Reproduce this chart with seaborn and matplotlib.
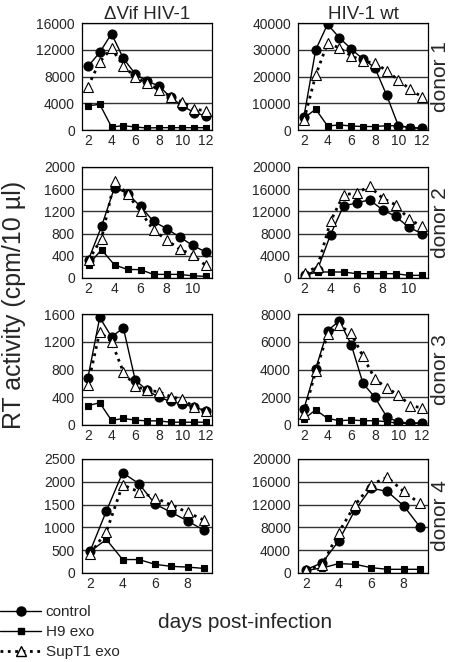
import numpy as np
import seaborn as sns
import matplotlib.pyplot as plt
from matplotlib.lines import Line2D

# days post-infection per donor
days_d1 = [2, 3, 4, 5, 6, 7, 8, 9, 10, 11, 12]
days_d2 = [2, 3, 4, 5, 6, 7, 8, 9, 10, 11]
days_d3 = [2, 3, 4, 5, 6, 7, 8, 9, 10, 11, 12]
days_d4 = [2, 3, 4, 5, 6, 7, 8, 9]

# donor 1
d1_vif_control = [9500, 11600, 14400, 10700, 8400, 7300, 6600, 4900, 3600, 2600, 2100]
d1_vif_h9 = [3600, 3850, 450, 650, 450, 300, 350, 350, 350, 350, 350]
d1_vif_supt1 = [6500, 10200, 12200, 9600, 7900, 7000, 6000, 5000, 4200, 3100, 2900]
d1_wt_control = [5000, 30000, 39500, 34500, 30300, 26500, 23300, 13000, 1500, 900, 600]
d1_wt_h9 = [4400, 7800, 1500, 1900, 1500, 1300, 1300, 1600, 1600, 1000, 600]
d1_wt_supt1 = [3800, 20500, 32500, 30700, 27700, 25800, 25000, 22200, 18600, 15200, 12300]

# donor 2
d2_vif_control = [330, 930, 1630, 1520, 1290, 1020, 890, 740, 590, 470]
d2_vif_h9 = [240, 510, 235, 155, 150, 65, 65, 65, 40, 30]
d2_vif_supt1 = [320, 710, 1745, 1510, 1200, 860, 690, 520, 420, 230]
d2_wt_control = [480, 1500, 7800, 13000, 13500, 14100, 12300, 11100, 9200, 8000]
d2_wt_h9 = [480, 1080, 1080, 1080, 780, 780, 780, 780, 480, 480]
d2_wt_supt1 = [960, 2000, 10200, 15000, 15300, 16500, 14400, 13200, 10700, 9300]

# donor 3
d3_vif_control = [680, 1550, 1270, 1400, 650, 500, 400, 340, 300, 260, 200]
d3_vif_h9 = [280, 320, 65, 95, 70, 60, 60, 40, 40, 40, 40]
d3_vif_supt1 = [580, 1345, 1200, 765, 560, 500, 480, 410, 370, 260, 200]
d3_wt_control = [1160, 4060, 6800, 7500, 5800, 3000, 2000, 600, 200, 150, 150]
d3_wt_h9 = [440, 1090, 480, 310, 360, 310, 310, 240, 120, 120, 120]
d3_wt_supt1 = [800, 3870, 6530, 7180, 6600, 4950, 3340, 2660, 2180, 1400, 1230]

# donor 4
d4_vif_control = [480, 1360, 2200, 1960, 1510, 1330, 1140, 940]
d4_vif_h9 = [475, 735, 295, 295, 190, 145, 130, 100]
d4_vif_supt1 = [425, 905, 1935, 1780, 1650, 1490, 1330, 1160]
d4_wt_control = [590, 1820, 5600, 11000, 14900, 14300, 11800, 8100]
d4_wt_h9 = [470, 880, 1650, 1530, 940, 650, 650, 650]
d4_wt_supt1 = [470, 1470, 7100, 11900, 15500, 16800, 14300, 12200]

col_titles = ['ΔVif HIV-1', 'HIV-1 wt']
donor_labels = ['donor 1', 'donor 2', 'donor 3', 'donor 4']
series_names = ['control', 'H9 exo', 'SupT1 exo']

panels = [
    [(days_d1, d1_vif_control, d1_vif_h9, d1_vif_supt1, 16000, 4000),
     (days_d1, d1_wt_control, d1_wt_h9, d1_wt_supt1, 40000, 10000)],
    [(days_d2, d2_vif_control, d2_vif_h9, d2_vif_supt1, 2000, 400),
     (days_d2, d2_wt_control, d2_wt_h9, d2_wt_supt1, 20000, 4000)],
    [(days_d3, d3_vif_control, d3_vif_h9, d3_vif_supt1, 1600, 400),
     (days_d3, d3_wt_control, d3_wt_h9, d3_wt_supt1, 8000, 2000)],
    [(days_d4, d4_vif_control, d4_vif_h9, d4_vif_supt1, 2500, 500),
     (days_d4, d4_wt_control, d4_wt_h9, d4_wt_supt1, 20000, 4000)],
]

sns.set_style('white')
plt.rcParams['font.family'] = ['Liberation Sans', 'DejaVu Sans']

fig = plt.figure(figsize=(4.5, 6.62), dpi=100)
H = 662.0
W = 450.0
row_px = [(23, 130), (167, 278), (314, 425), (459, 573)]
col_px = [(82, 212), (298, 428)]

styles = [
    dict(marker='o', markersize=6.5, linestyle='-', linewidth=1.0,
         markerfacecolor='black'),
    dict(marker='s', markersize=5, linestyle='-', linewidth=1.0,
         markerfacecolor='black'),
    dict(marker='^', markersize=6.5, linestyle=':', linewidth=2.0,
         markerfacecolor='white'),
]

for r, row in enumerate(panels):
    top, bot = row_px[r]
    for c, (days, ctrl, h9, sup, ymax, ystep) in enumerate(row):
        left, right = col_px[c]
        ax = fig.add_axes([left / W, 1 - bot / H, (right - left) / W, (bot - top) / H])
        for vals, st in zip([ctrl, h9, sup], styles):
            sns.lineplot(x=days, y=vals, ax=ax, color='black',
                         markeredgecolor='black', markeredgewidth=0.8,
                         legend=False, **st)
        ax.set_xlim(days[0] - 0.5, days[-1] + 0.5)
        ax.set_ylim(0, ymax)
        ax.set_yticks(np.arange(0, ymax + 1, ystep))
        ax.yaxis.grid(True, color='#333333', linewidth=1.0)
        ax.set_axisbelow(True)
        # tick marks between categories, labels on every other day
        ax.set_xticks(np.arange(days[0] - 0.5, days[-1] + 0.6, 1.0))
        ax.set_xticklabels([])
        ax.set_xticks([d for d in days if d % 2 == 0], minor=True)
        ax.set_xticklabels([str(d) for d in days if d % 2 == 0], minor=True)
        ax.tick_params(axis='x', which='major', direction='out', length=3,
                       width=0.8, color='black')
        ax.tick_params(axis='x', which='minor', length=0, labelsize=10, pad=3)
        ax.tick_params(axis='y', direction='out', length=3, width=0.8,
                       color='black', labelsize=10, pad=2)
        for sp in ax.spines.values():
            sp.set_color('black')
            sp.set_linewidth(0.9)
        ax.set_xlabel('')
        ax.set_ylabel('')
        if r == 0:
            ax.set_title(col_titles[c], fontsize=13.5, pad=3)
        if c == 1:
            fig.text(441 / W, 1 - (top + bot) / 2 / H, donor_labels[r],
                     rotation=90, ha='center', va='center', fontsize=15)

fig.text(14 / W, 1 - 305 / H, 'RT activity (cpm/10 µl)', rotation=90,
         ha='center', va='center', fontsize=18)
fig.text(245 / W, 1 - 622 / H, 'days post-infection', ha='center',
         va='center', fontsize=15)

handles = [Line2D([], [], color='black', markeredgecolor='black', **st)
           for st in styles]
fig.legend(handles, series_names, loc='upper left',
           bbox_to_anchor=(0.0, 1 - 605 / H), frameon=False, fontsize=11,
           handlelength=2.7, handletextpad=0.3, labelspacing=0.4,
           borderaxespad=0, borderpad=0)

fig.savefig('out.png', dpi=100)
